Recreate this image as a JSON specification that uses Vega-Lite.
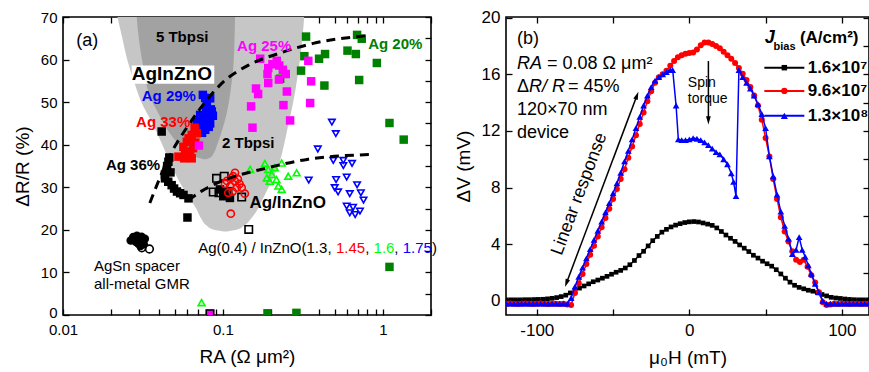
{
"$schema": "https://vega.github.io/schema/vega-lite/v6.json",
"background": "white",
"padding": {"left": 12, "top": 7, "right": 0, "bottom": 0},
"bounds": "flush",
"spacing": 75,
"config": {
  "font": "Liberation Sans",
  "view": {"stroke": "#000000", "strokeWidth": 1.6},
  "axis": {"domain": false, "grid": false, "tickColor": "#000000", "tickWidth": 1.3, "tickSize": -6, "labelColor": "#000000", "titleColor": "#000000", "labelFont": "Liberation Sans", "titleFont": "Liberation Sans", "titleFontWeight": "normal", "labelOverlap": false, "labelFlush": false},
  "text": {"font": "Liberation Sans"}
},
"datasets": {
  "lightArea": [
    {"y":19.6,"xl":0.101,"xr":0.106},
    {"y":20.0,"xl":0.088,"xr":0.121},
    {"y":21.0,"xl":0.079,"xr":0.136},
    {"y":22.5,"xl":0.0735,"xr":0.149},
    {"y":25,"xl":0.068,"xr":0.166},
    {"y":27,"xl":0.063,"xr":0.176},
    {"y":30,"xl":0.056,"xr":0.193},
    {"y":35,"xl":0.0478,"xr":0.222},
    {"y":40,"xl":0.0418,"xr":0.241},
    {"y":45,"xl":0.0363,"xr":0.257},
    {"y":50,"xl":0.0309,"xr":0.275},
    {"y":55,"xl":0.0277,"xr":0.290},
    {"y":60,"xl":0.0252,"xr":0.303},
    {"y":65,"xl":0.0235,"xr":0.314},
    {"y":70,"xl":0.0219,"xr":0.322}
  ],
  "darkArea": [
    {"y":36.6,"xl":0.076,"xr":0.079},
    {"y":37.0,"xl":0.069,"xr":0.0835},
    {"y":38.0,"xl":0.062,"xr":0.0875},
    {"y":40.0,"xl":0.0535,"xr":0.092},
    {"y":43.0,"xl":0.046,"xr":0.098},
    {"y":47.0,"xl":0.040,"xr":0.105},
    {"y":52.0,"xl":0.0345,"xr":0.111},
    {"y":58.0,"xl":0.0319,"xr":0.116},
    {"y":64.0,"xl":0.0300,"xr":0.118},
    {"y":70.0,"xl":0.0289,"xr":0.119}
  ],
  "dash": [
    {"g":"up","x":0.0349,"y":26.3},{"g":"up","x":0.0468,"y":37.6},{"g":"up","x":0.0609,"y":44.6},{"g":"up","x":0.0793,"y":50.5},{"g":"up","x":0.1009,"y":54.8},{"g":"up","x":0.1446,"y":58.7},{"g":"up","x":0.226,"y":61.5},{"g":"up","x":0.367,"y":63.8},{"g":"up","x":0.79,"y":65.6},
    {"g":"lo","x":0.0607,"y":26.9},{"g":"lo","x":0.0735,"y":29.1},{"g":"lo","x":0.0935,"y":31.1},{"g":"lo","x":0.192,"y":34.6},{"g":"lo","x":0.342,"y":36.6},{"g":"lo","x":0.832,"y":37.7}
  ],
  "fa": [
    {"s":"Ag20","x":0.331,"y":65.4},{"s":"Ag20","x":0.690,"y":65.8},{"s":"Ag20","x":0.738,"y":64.9},{"s":"Ag20","x":0.323,"y":60.8},{"s":"Ag20","x":0.399,"y":60.2},{"s":"Ag20","x":0.435,"y":61.3},{"s":"Ag20","x":0.601,"y":62.1},{"s":"Ag20","x":0.678,"y":61.3},{"s":"Ag20","x":0.917,"y":59.2},{"s":"Ag20","x":0.308,"y":57.4},{"s":"Ag20","x":0.228,"y":55.5},{"s":"Ag20","x":0.711,"y":55.2},{"s":"Ag20","x":0.431,"y":53.9},{"s":"Ag20","x":1.10,"y":45.1},{"s":"Ag20","x":1.35,"y":41.2},{"s":"Ag20","x":1.10,"y":11.3},{"s":"Ag20","x":0.190,"y":0.4},{"s":"Ag20","x":0.288,"y":0.5},
    {"s":"Ag29","x":0.0749,"y":51.7},{"s":"Ag29","x":0.0775,"y":51.0},{"s":"Ag29","x":0.0832,"y":50.9},{"s":"Ag29","x":0.0793,"y":49.3},{"s":"Ag29","x":0.084,"y":48.3},{"s":"Ag29","x":0.0852,"y":47.8},{"s":"Ag29","x":0.0785,"y":47.8},{"s":"Ag29","x":0.0720,"y":47.0},{"s":"Ag29","x":0.0813,"y":46.5},{"s":"Ag29","x":0.0865,"y":46.8},{"s":"Ag29","x":0.0735,"y":46.0},{"s":"Ag29","x":0.0686,"y":45.4},{"s":"Ag29","x":0.0757,"y":44.6},{"s":"Ag29","x":0.0832,"y":45.0},{"s":"Ag29","x":0.0705,"y":45.0},{"s":"Ag29","x":0.0671,"y":43.5},{"s":"Ag29","x":0.0740,"y":42.8},{"s":"Ag29","x":0.0775,"y":43.5},{"s":"Ag29","x":0.0815,"y":44.2},
    {"s":"Ag33","x":0.0527,"y":37.2},{"s":"Ag33","x":0.0566,"y":39.5},{"s":"Ag33","x":0.0638,"y":42.3},{"s":"Ag33","x":0.0686,"y":42.7},{"s":"Ag33","x":0.0665,"y":44.0},{"s":"Ag33","x":0.0624,"y":38.4},{"s":"Ag33","x":0.0638,"y":36.8},{"s":"Ag33","x":0.0595,"y":40.7},{"s":"Ag33","x":0.0672,"y":40.5},{"s":"Ag33","x":0.0572,"y":36.8},{"s":"Ag33","x":0.061,"y":41.5},{"s":"Ag33","x":0.058,"y":38.2},{"s":"Ag33","x":0.065,"y":39.2},
    {"s":"Ag25","x":0.171,"y":60.2},{"s":"Ag25","x":0.192,"y":58.0},{"s":"Ag25","x":0.204,"y":58.9},{"s":"Ag25","x":0.217,"y":59.7},{"s":"Ag25","x":0.225,"y":58.6},{"s":"Ag25","x":0.237,"y":57.6},{"s":"Ag25","x":0.247,"y":56.6},{"s":"Ag25","x":0.190,"y":56.6},{"s":"Ag25","x":0.192,"y":54.5},{"s":"Ag25","x":0.224,"y":55.3},{"s":"Ag25","x":0.342,"y":59.7},{"s":"Ag25","x":0.356,"y":54.9},{"s":"Ag25","x":0.161,"y":53.2},{"s":"Ag25","x":0.166,"y":51.9},{"s":"Ag25","x":0.251,"y":52.5},{"s":"Ag25","x":0.351,"y":49.8},{"s":"Ag25","x":0.239,"y":49.3},{"s":"Ag25","x":0.150,"y":49.0},{"s":"Ag25","x":0.263,"y":45.7},{"s":"Ag25","x":0.153,"y":44.0},{"s":"Ag25","x":0.0708,"y":39.8},{"s":"Ag25","x":0.083,"y":0.3},
    {"s":"Ag36","x":0.0414,"y":43.1},{"s":"Ag36","x":0.0462,"y":37.0},{"s":"Ag36","x":0.0456,"y":36.0},{"s":"Ag36","x":0.0448,"y":35.0},{"s":"Ag36","x":0.0446,"y":34.1},{"s":"Ag36","x":0.047,"y":33.5},{"s":"Ag36","x":0.0434,"y":33.0},{"s":"Ag36","x":0.0434,"y":32.1},{"s":"Ag36","x":0.0455,"y":31.3},{"s":"Ag36","x":0.0478,"y":30.5},{"s":"Ag36","x":0.0495,"y":29.7},{"s":"Ag36","x":0.0516,"y":29.0},{"s":"Ag36","x":0.054,"y":28.6},{"s":"Ag36","x":0.0567,"y":28.2},{"s":"Ag36","x":0.0609,"y":27.4},{"s":"Ag36","x":0.0600,"y":22.9},{"s":"Ag36","x":0.0958,"y":29.5},{"s":"Ag36","x":0.1005,"y":27.9},{"s":"Ag36","x":0.1106,"y":27.5},{"s":"Ag36","x":0.108,"y":29.1},
    {"s":"AgSn","x":0.0265,"y":17.5},{"s":"AgSn","x":0.0275,"y":18.3},{"s":"AgSn","x":0.0285,"y":17.2},{"s":"AgSn","x":0.029,"y":18.6},{"s":"AgSn","x":0.030,"y":17.8},{"s":"AgSn","x":0.031,"y":18.4},{"s":"AgSn","x":0.0315,"y":17.4},{"s":"AgSn","x":0.032,"y":16.6},{"s":"AgSn","x":0.0295,"y":16.8},{"s":"AgSn","x":0.0305,"y":16.2},{"s":"AgSn","x":0.0325,"y":17.9}
  ],
  "oa": [
    {"s":"AgSn","x":0.0311,"y":15.8},{"s":"AgSn","x":0.0347,"y":15.5},
    {"s":"IZO13","x":0.0912,"y":32.1},{"s":"IZO13","x":0.1019,"y":32.6},{"s":"IZO13","x":0.0870,"y":28.9},{"s":"IZO13","x":0.0945,"y":28.7},{"s":"IZO13","x":0.131,"y":27.7},{"s":"IZO13","x":0.145,"y":20.1},{"s":"IZO13","x":0.083,"y":0.3},
    {"s":"IZO145","x":0.119,"y":33.4},{"s":"IZO145","x":0.113,"y":32.2},{"s":"IZO145","x":0.103,"y":30.8},{"s":"IZO145","x":0.111,"y":30.3},{"s":"IZO145","x":0.119,"y":31.4},{"s":"IZO145","x":0.127,"y":30.8},{"s":"IZO145","x":0.131,"y":29.9},{"s":"IZO145","x":0.137,"y":28.5},{"s":"IZO145","x":0.108,"y":28.7},{"s":"IZO145","x":0.122,"y":29.9},{"s":"IZO145","x":0.112,"y":23.8},{"s":"IZO145","x":0.116,"y":32.6},{"s":"IZO145","x":0.115,"y":29.0},{"s":"IZO145","x":0.124,"y":31.9},{"s":"IZO145","x":0.106,"y":31.5},
    {"s":"IZO16","x":0.148,"y":34.2},{"s":"IZO16","x":0.183,"y":35.6},{"s":"IZO16","x":0.192,"y":34.2},{"s":"IZO16","x":0.202,"y":33.0},{"s":"IZO16","x":0.188,"y":32.2},{"s":"IZO16","x":0.211,"y":34.6},{"s":"IZO16","x":0.233,"y":35.7},{"s":"IZO16","x":0.216,"y":31.8},{"s":"IZO16","x":0.196,"y":31.4},{"s":"IZO16","x":0.256,"y":32.6},{"s":"IZO16","x":0.289,"y":33.4},{"s":"IZO16","x":0.222,"y":30.3},{"s":"IZO16","x":0.233,"y":29.5},{"s":"IZO16","x":0.0735,"y":2.9},
    {"s":"IZO175","x":0.480,"y":45.3},{"s":"IZO175","x":0.508,"y":42.6},{"s":"IZO175","x":0.392,"y":39.0},{"s":"IZO175","x":0.344,"y":31.7},{"s":"IZO175","x":0.490,"y":36.3},{"s":"IZO175","x":0.566,"y":36.3},{"s":"IZO175","x":0.642,"y":35.6},{"s":"IZO175","x":0.566,"y":35.1},{"s":"IZO175","x":0.510,"y":31.8},{"s":"IZO175","x":0.594,"y":32.4},{"s":"IZO175","x":0.690,"y":30.6},{"s":"IZO175","x":0.500,"y":29.9},{"s":"IZO175","x":0.525,"y":28.9},{"s":"IZO175","x":0.621,"y":28.5},{"s":"IZO175","x":0.729,"y":28.7},{"s":"IZO175","x":0.757,"y":27.0},{"s":"IZO175","x":0.594,"y":25.6},{"s":"IZO175","x":0.651,"y":25.3},{"s":"IZO175","x":0.719,"y":24.4},{"s":"IZO175","x":0.621,"y":24.0},{"s":"IZO175","x":0.671,"y":23.6}
  ],
  "b16": [
    {"h":-120,"v":0.07},{"h":-117,"v":0.07},{"h":-114,"v":0.07},{"h":-111,"v":0.07},{"h":-108,"v":0.08},{"h":-105,"v":0.08},{"h":-102,"v":0.09},{"h":-99,"v":0.1},{"h":-96,"v":0.11},{"h":-93,"v":0.14},{"h":-90,"v":0.18},{"h":-87,"v":0.23},{"h":-84,"v":0.3},{"h":-81,"v":0.4},{"h":-78,"v":0.56},{"h":-75,"v":0.72},{"h":-72,"v":0.9},{"h":-69,"v":1.05},{"h":-66,"v":1.2},{"h":-63,"v":1.35},{"h":-60,"v":1.47},{"h":-57,"v":1.6},{"h":-54,"v":1.73},{"h":-51,"v":1.88},{"h":-48,"v":2.02},{"h":-45,"v":2.15},{"h":-42,"v":2.32},{"h":-39,"v":2.55},{"h":-36,"v":2.85},{"h":-33,"v":3.2},{"h":-30,"v":3.5},{"h":-27,"v":3.88},{"h":-24,"v":4.25},{"h":-21,"v":4.55},{"h":-18,"v":4.85},{"h":-15,"v":5.05},{"h":-12,"v":5.22},{"h":-9,"v":5.35},{"h":-6,"v":5.45},{"h":-3,"v":5.53},{"h":0,"v":5.58},{"h":3,"v":5.6},{"h":6,"v":5.57},{"h":9,"v":5.5},{"h":12,"v":5.42},{"h":15,"v":5.33},{"h":18,"v":5.15},{"h":21,"v":4.9},{"h":24,"v":4.65},{"h":27,"v":4.42},{"h":30,"v":4.2},{"h":33,"v":3.95},{"h":36,"v":3.72},{"h":39,"v":3.48},{"h":42,"v":3.22},{"h":45,"v":3.02},{"h":48,"v":2.8},{"h":51,"v":2.62},{"h":54,"v":2.45},{"h":57,"v":2.2},{"h":60,"v":1.9},{"h":63,"v":1.6},{"h":66,"v":1.32},{"h":69,"v":1.1},{"h":72,"v":0.95},{"h":75,"v":0.85},{"h":78,"v":0.75},{"h":81,"v":0.68},{"h":84,"v":0.58},{"h":87,"v":0.45},{"h":90,"v":0.35},{"h":93,"v":0.25},{"h":96,"v":0.2},{"h":99,"v":0.17},{"h":102,"v":0.13},{"h":105,"v":0.1},{"h":108,"v":0.08},{"h":111,"v":0.07},{"h":114,"v":0.07},{"h":117,"v":0.07}
  ],
  "b96": [
    {"h":-120,"v":-0.2},{"h":-117.5,"v":-0.18},{"h":-115,"v":-0.2},{"h":-112.5,"v":-0.22},{"h":-110,"v":-0.2},{"h":-107.5,"v":-0.18},{"h":-105,"v":-0.2},{"h":-102.5,"v":-0.22},{"h":-100,"v":-0.2},{"h":-97.5,"v":-0.18},{"h":-95,"v":-0.2},{"h":-92.5,"v":-0.22},{"h":-90,"v":-0.2},{"h":-87.5,"v":-0.2},{"h":-85,"v":-0.22},{"h":-82.5,"v":-0.2},{"h":-80,"v":-0.25},{"h":-77.5,"v":-0.3},{"h":-75,"v":0.55},{"h":-72.5,"v":1.25},{"h":-70,"v":1.9},{"h":-67.5,"v":2.6},{"h":-65,"v":3.25},{"h":-62.5,"v":3.9},{"h":-60,"v":4.55},{"h":-57.5,"v":5.2},{"h":-55,"v":5.85},{"h":-52.5,"v":6.5},{"h":-50,"v":7.2},{"h":-47.5,"v":7.9},{"h":-45,"v":8.6},{"h":-42.5,"v":9.3},{"h":-40,"v":10.1},{"h":-37.5,"v":10.9},{"h":-35,"v":11.7},{"h":-32.5,"v":12.5},{"h":-30,"v":13.3},{"h":-27.5,"v":14.1},{"h":-25,"v":14.8},{"h":-22.5,"v":15.4},{"h":-20,"v":15.8},{"h":-17.5,"v":16.0},{"h":-15,"v":16.25},{"h":-12.5,"v":16.6},{"h":-10,"v":16.95},{"h":-7.5,"v":17.2},{"h":-5,"v":17.35},{"h":-2.5,"v":17.45},{"h":0,"v":17.5},{"h":2.5,"v":17.55},{"h":5,"v":17.75},{"h":7.5,"v":18.05},{"h":10,"v":18.25},{"h":12.5,"v":18.25},{"h":15,"v":18.15},{"h":17.5,"v":18.0},{"h":20,"v":17.85},{"h":22.5,"v":17.6},{"h":25,"v":17.35},{"h":27.5,"v":17.1},{"h":30,"v":16.8},{"h":32.5,"v":16.45},{"h":35,"v":16.05},{"h":37.5,"v":15.6},{"h":40,"v":15.1},{"h":42.5,"v":14.5},{"h":45,"v":13.8},{"h":47.5,"v":12.8},{"h":50,"v":11.5},{"h":52.5,"v":10.2},{"h":55,"v":8.6},{"h":57.5,"v":7.2},{"h":60,"v":5.9},{"h":62.5,"v":4.9},{"h":65,"v":4.2},{"h":67.5,"v":3.5},{"h":70,"v":2.9},{"h":72.5,"v":2.75},{"h":75,"v":2.9},{"h":77.5,"v":2.4},{"h":80,"v":1.8},{"h":82.5,"v":1.3},{"h":85,"v":0.6},{"h":87.5,"v":-0.1},{"h":90,"v":-0.3},{"h":92.5,"v":-0.25},{"h":95,"v":-0.2},{"h":97.5,"v":-0.22},{"h":100,"v":-0.2},{"h":102.5,"v":-0.2},{"h":105,"v":-0.22},{"h":107.5,"v":-0.2},{"h":110,"v":-0.2},{"h":112.5,"v":-0.22},{"h":115,"v":-0.2},{"h":117.5,"v":-0.2}
  ],
  "b13": [
    {"h":-120,"v":-0.2},{"h":-117.5,"v":-0.2},{"h":-115,"v":-0.2},{"h":-112.5,"v":-0.2},{"h":-110,"v":-0.2},{"h":-107.5,"v":-0.2},{"h":-105,"v":-0.2},{"h":-102.5,"v":-0.2},{"h":-100,"v":-0.2},{"h":-97.5,"v":-0.2},{"h":-95,"v":-0.2},{"h":-92.5,"v":-0.2},{"h":-90,"v":-0.2},{"h":-87.5,"v":-0.2},{"h":-85,"v":-0.2},{"h":-82.5,"v":-0.2},{"h":-80,"v":-0.2},{"h":-77.5,"v":0.2},{"h":-75,"v":1.0},{"h":-72.5,"v":1.7},{"h":-70,"v":2.35},{"h":-67.5,"v":3.0},{"h":-65,"v":3.65},{"h":-62.5,"v":4.3},{"h":-60,"v":4.95},{"h":-57.5,"v":5.6},{"h":-55,"v":6.25},{"h":-52.5,"v":6.9},{"h":-50,"v":7.6},{"h":-47.5,"v":8.3},{"h":-45,"v":9.05},{"h":-42.5,"v":9.85},{"h":-40,"v":10.6},{"h":-37.5,"v":11.4},{"h":-35,"v":12.2},{"h":-32.5,"v":13.0},{"h":-30,"v":13.8},{"h":-27.5,"v":14.5},{"h":-25,"v":15.1},{"h":-22.5,"v":15.55},{"h":-20,"v":15.8},{"h":-17.5,"v":16.0},{"h":-15,"v":16.15},{"h":-12.5,"v":16.3},{"h":-10.9,"v":16.3},{"h":-8.7,"v":13.8},{"h":-7.2,"v":11.4},{"h":-5,"v":11.35},{"h":-2.5,"v":11.35},{"h":0,"v":11.4},{"h":2.5,"v":11.5},{"h":5,"v":11.45},{"h":7.5,"v":11.35},{"h":10,"v":11.2},{"h":12.5,"v":11.0},{"h":15,"v":10.75},{"h":17.5,"v":10.5},{"h":20,"v":10.35},{"h":22.5,"v":10.0},{"h":25,"v":9.65},{"h":27.5,"v":9.0},{"h":29,"v":8.4},{"h":30.6,"v":7.4},{"h":32.5,"v":16.3},{"h":35,"v":15.8},{"h":37.5,"v":15.4},{"h":40,"v":15.0},{"h":42.5,"v":14.5},{"h":45,"v":13.9},{"h":47.5,"v":13.2},{"h":50,"v":12.2},{"h":52.5,"v":10.2},{"h":55,"v":8.8},{"h":57.5,"v":7.5},{"h":60,"v":6.3},{"h":62.5,"v":5.3},{"h":65,"v":4.4},{"h":67.5,"v":3.3},{"h":70,"v":3.6},{"h":72,"v":4.5},{"h":74,"v":3.6},{"h":76,"v":3.1},{"h":78,"v":2.5},{"h":80,"v":1.9},{"h":82.5,"v":1.2},{"h":85,"v":0.6},{"h":87.5,"v":0.0},{"h":90,"v":-0.2},{"h":92.5,"v":-0.2},{"h":95,"v":-0.2},{"h":97.5,"v":-0.2},{"h":100,"v":-0.2},{"h":102.5,"v":-0.2},{"h":105,"v":-0.2},{"h":107.5,"v":-0.2},{"h":110,"v":-0.2},{"h":112.5,"v":-0.2},{"h":115,"v":-0.2},{"h":117.5,"v":-0.2}
  ]
},
"hconcat": [
{
  "width": 368, "height": 298,
  "resolve": {"axis": {"x": "independent", "y": "independent"}},
  "layer": [
    {"layer": [
      {"data": {"name": "lightArea"},
       "mark": {"type": "area", "orient": "horizontal", "interpolate": "monotone", "color": "#c6c6c6", "opacity": 1},
       "encoding": {
         "y": {"field": "y", "type": "quantitative", "scale": {"domain": [0, 70], "nice": false, "zero": false},
               "axis": {"orient": "left", "values": [0,5,10,15,20,25,30,35,40,45,50,55,60,65,70], "labelExpr": "datum.value % 10 == 0 ? datum.label : ''", "labelFontSize": 15, "labelPadding": 12, "labelOffset": {"condition": {"test": "datum.value == 0", "value": -3}, "value": 0}, "title": "ΔR/R (%)", "titleFontSize": 19, "titlePadding": 8}},
         "x": {"field": "xl", "type": "quantitative", "scale": {"type": "log", "domain": [0.01, 2], "nice": false},
               "axis": {"orient": "bottom", "values": [0.01,0.02,0.03,0.04,0.05,0.06,0.07,0.08,0.09,0.1,0.2,0.3,0.4,0.5,0.6,0.7,0.8,0.9,1,2], "labelExpr": "datum.value == 0.01 ? '0.01' : (datum.value == 0.1 ? '0.1' : (datum.value == 1 ? '1' : ''))", "labelFontSize": 15, "labelPadding": 13, "title": "RA (Ω μm²)", "titleFontSize": 19, "titlePadding": 10}},
         "x2": {"field": "xr"}
       }},
      {"data": {"name": "darkArea"},
       "mark": {"type": "area", "orient": "horizontal", "interpolate": "monotone", "color": "#a2a2a2", "opacity": 1},
       "encoding": {
         "y": {"field": "y", "type": "quantitative"},
         "x": {"field": "xl", "type": "quantitative"},
         "x2": {"field": "xr"}
       }},
      {"data": {"values": [{"xa": 0.0269, "xb": 0.0883, "ya": 54.3, "yb": 58.6}]},
       "mark": {"type": "rect", "color": "#ffffff"},
       "encoding": {
         "x": {"field": "xa", "type": "quantitative"}, "x2": {"field": "xb"},
         "y": {"field": "ya", "type": "quantitative"}, "y2": {"field": "yb"}
       }},
      {"data": {"name": "fa"},
       "mark": {"type": "point", "filled": true, "opacity": 1, "size": 72, "clip": true},
       "encoding": {
         "x": {"field": "x", "type": "quantitative"},
         "y": {"field": "y", "type": "quantitative"},
         "color": {"field": "s", "type": "nominal", "legend": null, "scale": {"domain": ["Ag20","Ag25","Ag29","Ag33","Ag36","AgSn","IZO13","IZO145","IZO16","IZO175","k"], "range": ["#008000","#ff00ff","#0000ff","#ff0000","#000000","#000000","#000000","#ff0000","#00ff00","#0000ff","#000000"]}},
         "shape": {"field": "s", "type": "nominal", "legend": null, "scale": {"domain": ["Ag20","Ag25","Ag29","Ag33","Ag36","AgSn","IZO13","IZO145","IZO16","IZO175"], "range": ["square","square","square","square","square","circle","square","circle","triangle-up","triangle-down"]}}
       }},
      {"data": {"name": "oa"},
       "mark": {"type": "point", "filled": false, "opacity": 1, "strokeWidth": 1.6, "clip": true},
       "encoding": {
         "x": {"field": "x", "type": "quantitative"},
         "y": {"field": "y", "type": "quantitative"},
         "color": {"field": "s", "type": "nominal", "legend": null},
         "shape": {"field": "s", "type": "nominal", "legend": null},
         "size": {"field": "s", "type": "nominal", "legend": null, "scale": {"domain": ["AgSn","IZO13","IZO145","IZO16","IZO175"], "range": [60,42,52,85,85]}}
       }},
      {"data": {"name": "dash"},
       "mark": {"type": "line", "color": "#000000", "strokeWidth": 3, "strokeDash": [9, 6], "interpolate": "monotone"},
       "encoding": {
         "x": {"field": "x", "type": "quantitative"},
         "y": {"field": "y", "type": "quantitative"},
         "detail": {"field": "g", "type": "nominal"}
       }},
      {"data": {"values": [
          {"x": 0.0556, "y": 65.4, "t": "5 Tbpsi", "s": "k"},
          {"x": 0.144, "y": 40.4, "t": "2 Tbpsi", "s": "k"},
          {"x": 0.181, "y": 63.3, "t": "Ag 25%", "s": "Ag25"},
          {"x": 1.195, "y": 63.6, "t": "Ag 20%", "s": "Ag20"},
          {"x": 0.0459, "y": 51.5, "t": "Ag 29%", "s": "Ag29"},
          {"x": 0.0423, "y": 45.3, "t": "Ag 33%", "s": "Ag33"},
          {"x": 0.0274, "y": 35.2, "t": "Ag 36%", "s": "Ag36"}]},
       "mark": {"type": "text", "fontWeight": "bold", "fontSize": 15, "align": "center", "baseline": "middle"},
       "encoding": {
         "x": {"field": "x", "type": "quantitative"},
         "y": {"field": "y", "type": "quantitative"},
         "text": {"field": "t"},
         "color": {"field": "s", "type": "nominal", "legend": null}
       }},
      {"data": {"values": [{"x": 0.0479, "y": 56.6, "t": "AgInZnO"}]},
       "mark": {"type": "text", "fontWeight": "bold", "fontSize": 19, "align": "center", "baseline": "middle", "color": "#000000"},
       "encoding": {"x": {"field": "x", "type": "quantitative"}, "y": {"field": "y", "type": "quantitative"}, "text": {"field": "t"}}},
      {"data": {"values": [{"x": 0.254, "y": 26.2, "t": "Ag/InZnO"}]},
       "mark": {"type": "text", "fontWeight": "bold", "fontSize": 17, "align": "center", "baseline": "middle", "color": "#000000"},
       "encoding": {"x": {"field": "x", "type": "quantitative"}, "y": {"field": "y", "type": "quantitative"}, "text": {"field": "t"}}},
      {"data": {"values": [{"x": 0.0121, "y": 64.3, "t": "(a)"}]},
       "mark": {"type": "text", "fontSize": 18, "align": "left", "baseline": "middle", "color": "#000000"},
       "encoding": {"x": {"field": "x", "type": "quantitative"}, "y": {"field": "y", "type": "quantitative"}, "text": {"field": "t"}}},
      {"data": {"values": [
          {"x": 0.01563, "y": 11.5, "t": "AgSn spacer", "s": "k"},
          {"x": 0.01563, "y": 7.2, "t": "all-metal GMR", "s": "k"},
          {"x": 0.0700, "y": 15.8, "t": "Ag(0.4) / InZnO(1.3, ", "s": "k"},
          {"x": 0.509, "y": 15.8, "t": "1.45", "s": "IZO145"},
          {"x": 0.776, "y": 15.8, "t": ",", "s": "k"},
          {"x": 0.875, "y": 15.8, "t": "1.6", "s": "IZO16"},
          {"x": 1.18, "y": 15.8, "t": ",", "s": "k"},
          {"x": 1.33, "y": 15.8, "t": "1.75", "s": "IZO175"},
          {"x": 2.03, "y": 15.8, "t": ")", "s": "k"}]},
       "mark": {"type": "text", "fontSize": 15, "align": "left", "baseline": "middle"},
       "encoding": {
         "x": {"field": "x", "type": "quantitative"},
         "y": {"field": "y", "type": "quantitative"},
         "text": {"field": "t"},
         "color": {"field": "s", "type": "nominal", "legend": null}
       }}
    ]},
    {"data": {"values": [{"x": 0.1, "y": 10}]},
     "mark": {"type": "point", "opacity": 0},
     "encoding": {
       "x": {"field": "x", "type": "quantitative", "scale": {"type": "log", "domain": [0.01, 2], "nice": false},
             "axis": {"orient": "top", "values": [0.01,0.02,0.03,0.04,0.05,0.06,0.07,0.08,0.09,0.1,0.2,0.3,0.4,0.5,0.6,0.7,0.8,0.9,1,2], "labels": false, "title": null}},
       "y": {"field": "y", "type": "quantitative", "scale": {"domain": [0, 70], "nice": false, "zero": false},
             "axis": {"orient": "right", "values": [0,5,10,15,20,25,30,35,40,45,50,55,60,65,70], "labels": false, "title": null}}
     }}
  ]
},
{
  "width": 363, "height": 298,
  "resolve": {"axis": {"x": "independent", "y": "independent"}},
  "layer": [
    {"layer": [
      {"data": {"name": "b16"},
       "mark": {"type": "line", "color": "#000000", "strokeWidth": 1.5, "clip": true, "point": {"filled": true, "shape": "square", "size": 22, "color": "#000000"}},
       "encoding": {
         "x": {"field": "h", "type": "quantitative", "scale": {"domain": [-120.2, 117.8], "nice": false, "zero": false},
               "axis": {"orient": "bottom", "values": [-100,-50,0,50,100], "labelExpr": "datum.value == -100 ? '-100' : (datum.value == 0 ? '0' : (datum.value == 100 ? '100' : ''))", "labelFontSize": 17, "labelPadding": 13, "title": "μ₀H (mT)", "titleFontSize": 19, "titlePadding": 10}},
         "y": {"field": "v", "type": "quantitative", "scale": {"domain": [-1, 20.05], "nice": false, "zero": false},
               "axis": {"orient": "left", "values": [0,2,4,6,8,10,12,14,16,18,20], "labelExpr": "datum.value % 4 == 0 ? datum.label : ''", "labelFontSize": 17, "labelPadding": 12, "title": "ΔV (mV)", "titleFontSize": 19, "titlePadding": 8}}
       }},
      {"data": {"name": "b96"},
       "mark": {"type": "line", "color": "#ff0000", "strokeWidth": 1.5, "clip": true, "point": {"filled": true, "shape": "circle", "size": 36, "color": "#ff0000"}},
       "encoding": {"x": {"field": "h", "type": "quantitative"}, "y": {"field": "v", "type": "quantitative"}}},
      {"data": {"name": "b13"},
       "mark": {"type": "line", "color": "#0000ff", "strokeWidth": 1.5, "clip": true, "point": {"filled": true, "shape": "triangle-up", "size": 45, "color": "#0000ff"}},
       "encoding": {"x": {"field": "h", "type": "quantitative"}, "y": {"field": "v", "type": "quantitative"}}},
      {"data": {"values": [{"h": 49.2, "h2": 75.4, "v": 16.47}]},
       "mark": {"type": "rule", "color": "#000000", "strokeWidth": 2},
       "encoding": {"x": {"field": "h", "type": "quantitative"}, "x2": {"field": "h2"}, "y": {"field": "v", "type": "quantitative"}}},
      {"data": {"values": [{"h": 62.3, "v": 16.47}]},
       "mark": {"type": "point", "filled": true, "shape": "square", "size": 30, "color": "#000000", "opacity": 1},
       "encoding": {"x": {"field": "h", "type": "quantitative"}, "y": {"field": "v", "type": "quantitative"}}},
      {"data": {"values": [{"h": 49.2, "h2": 75.4, "v": 14.83}]},
       "mark": {"type": "rule", "color": "#ff0000", "strokeWidth": 2},
       "encoding": {"x": {"field": "h", "type": "quantitative"}, "x2": {"field": "h2"}, "y": {"field": "v", "type": "quantitative"}}},
      {"data": {"values": [{"h": 62.3, "v": 14.83}]},
       "mark": {"type": "point", "filled": true, "shape": "circle", "size": 40, "color": "#ff0000", "opacity": 1},
       "encoding": {"x": {"field": "h", "type": "quantitative"}, "y": {"field": "v", "type": "quantitative"}}},
      {"data": {"values": [{"h": 49.2, "h2": 75.4, "v": 13.07}]},
       "mark": {"type": "rule", "color": "#0000ff", "strokeWidth": 2},
       "encoding": {"x": {"field": "h", "type": "quantitative"}, "x2": {"field": "h2"}, "y": {"field": "v", "type": "quantitative"}}},
      {"data": {"values": [{"h": 62.3, "v": 13.07}]},
       "mark": {"type": "point", "filled": true, "shape": "triangle-up", "size": 50, "color": "#0000ff", "opacity": 1},
       "encoding": {"x": {"field": "h", "type": "quantitative"}, "y": {"field": "v", "type": "quantitative"}}},
      {"data": {"values": [{"h": -80.4, "v": 1.30, "h2": -34.5, "v2": 14.46}]},
       "mark": {"type": "rule", "color": "#000000", "strokeWidth": 1.5},
       "encoding": {"x": {"field": "h", "type": "quantitative"}, "y": {"field": "v", "type": "quantitative"}, "x2": {"field": "h2"}, "y2": {"field": "v2"}}},
      {"data": {"values": [{"h": -34.5, "v": 14.46}]},
       "mark": {"type": "point", "filled": true, "opacity": 1, "color": "#000000", "shape": "M0,-1L0.5,0.7L-0.5,0.7Z", "size": 90, "angle": 20.6},
       "encoding": {"x": {"field": "h", "type": "quantitative"}, "y": {"field": "v", "type": "quantitative"}}},
      {"data": {"values": [{"h": -80.4, "v": 1.30}]},
       "mark": {"type": "point", "filled": true, "opacity": 1, "color": "#000000", "shape": "M0,-1L0.5,0.7L-0.5,0.7Z", "size": 90, "angle": 200.6},
       "encoding": {"x": {"field": "h", "type": "quantitative"}, "y": {"field": "v", "type": "quantitative"}}},
      {"data": {"values": [{"h": 12.5, "v": 16.94, "v2": 12.9}]},
       "mark": {"type": "rule", "color": "#000000", "strokeWidth": 1.5},
       "encoding": {"x": {"field": "h", "type": "quantitative"}, "y": {"field": "v", "type": "quantitative"}, "y2": {"field": "v2"}}},
      {"data": {"values": [{"h": 12.5, "v": 12.8}]},
       "mark": {"type": "point", "filled": true, "opacity": 1, "color": "#000000", "shape": "M0,-1L0.5,0.7L-0.5,0.7Z", "size": 90, "angle": 180},
       "encoding": {"x": {"field": "h", "type": "quantitative"}, "y": {"field": "v", "type": "quantitative"}}},
      {"data": {"values": [
          {"h": -113, "v": 18.48, "t": "(b)"},
          {"h": -93.3, "v": 16.76, "t": "= 0.08 Ω μm²"},
          {"h": -113, "v": 15.11, "t": "Δ"},
          {"h": -79.5, "v": 15.11, "t": "= 45%"},
          {"h": -113, "v": 13.47, "t": "120×70 nm"},
          {"h": -113, "v": 11.89, "t": "device"}]},
       "mark": {"type": "text", "fontSize": 18, "align": "left", "baseline": "middle", "color": "#000000"},
       "encoding": {"x": {"field": "h", "type": "quantitative"}, "y": {"field": "v", "type": "quantitative"}, "text": {"field": "t"}}},
      {"data": {"values": [
          {"h": -113, "v": 16.76, "t": "RA"},
          {"h": -105.1, "v": 15.11, "t": "R/ R"}]},
       "mark": {"type": "text", "fontSize": 18, "fontStyle": "italic", "align": "left", "baseline": "middle", "color": "#000000"},
       "encoding": {"x": {"field": "h", "type": "quantitative"}, "y": {"field": "v", "type": "quantitative"}, "text": {"field": "t"}}},
      {"data": {"values": [{"h": -72.1, "v": 7.55, "t": "Linear response"}]},
       "mark": {"type": "text", "fontSize": 18, "align": "center", "baseline": "middle", "angle": 290.5, "color": "#000000"},
       "encoding": {"x": {"field": "h", "type": "quantitative"}, "y": {"field": "v", "type": "quantitative"}, "text": {"field": "t"}}},
      {"data": {"values": [{"h": -1, "v": 15.42, "t": "Spin"}, {"h": -1, "v": 14.25, "t": "torque"}]},
       "mark": {"type": "text", "fontSize": 14, "align": "left", "baseline": "middle", "color": "#000000"},
       "encoding": {"x": {"field": "h", "type": "quantitative"}, "y": {"field": "v", "type": "quantitative"}, "text": {"field": "t"}}},
      {"data": {"values": [
          {"h": 77.6, "v": 16.47, "t": "1.6×10⁷"},
          {"h": 77.6, "v": 14.83, "t": "9.6×10⁷"},
          {"h": 77.6, "v": 13.07, "t": "1.3×10⁸"},
          {"h": 72.5, "v": 18.54, "t": "(A/cm²)"}]},
       "mark": {"type": "text", "fontSize": 17, "fontWeight": "bold", "align": "left", "baseline": "middle", "color": "#000000", "clip": true},
       "encoding": {"x": {"field": "h", "type": "quantitative"}, "y": {"field": "v", "type": "quantitative"}, "text": {"field": "t"}}},
      {"data": {"values": [{"h": 49.5, "v": 18.6, "t": "J"}]},
       "mark": {"type": "text", "fontSize": 18, "fontWeight": "bold", "fontStyle": "italic", "align": "left", "baseline": "middle", "color": "#000000"},
       "encoding": {"x": {"field": "h", "type": "quantitative"}, "y": {"field": "v", "type": "quantitative"}, "text": {"field": "t"}}},
      {"data": {"values": [{"h": 55.2, "v": 17.95, "t": "bias"}]},
       "mark": {"type": "text", "fontSize": 11, "fontWeight": "bold", "align": "left", "baseline": "middle", "color": "#000000"},
       "encoding": {"x": {"field": "h", "type": "quantitative"}, "y": {"field": "v", "type": "quantitative"}, "text": {"field": "t"}}}
    ]},
    {"data": {"values": [{"h": 0, "v": 10}]},
     "mark": {"type": "point", "opacity": 0},
     "encoding": {
       "x": {"field": "h", "type": "quantitative", "scale": {"domain": [-120.2, 117.8], "nice": false, "zero": false},
             "axis": {"orient": "top", "values": [-100,-50,0,50,100], "labels": false, "title": null}},
       "y": {"field": "v", "type": "quantitative", "scale": {"domain": [-1, 20.05], "nice": false, "zero": false},
             "axis": {"orient": "right", "values": [0,2,4,6,8,10,12,14,16,18,20], "labels": false, "title": null}}
     }}
  ]
}
]
}
